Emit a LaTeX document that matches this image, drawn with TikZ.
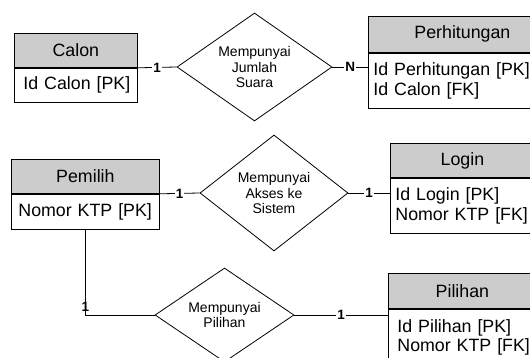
\documentclass[tikz,border=0pt]{standalone}
\usepackage{fontspec}
\setmainfont{Liberation Sans}
\usetikzlibrary{shapes.geometric}
\definecolor{hdrgray}{RGB}{204,204,204}
\newcommand{\attr}[1]{\mbox{#1}}
\tikzset{
  ent/.style={draw=black, line width=0.8pt, rectangle, inner sep=0pt,
    font=\fontsize{17.8}{19.5}\selectfont},
  enthead/.style={ent, fill=hdrgray, anchor=north west},
  entbody/.style={ent, fill=white, anchor=north west, align=left},
  rel/.style={draw=black, line width=0.8pt, diamond, aspect=1.4, inner sep=0pt,
    align=center, font=\fontsize{14}{15.5}\selectfont},
  card/.style={fill=white, inner xsep=1pt, inner ysep=0pt,
    font=\fontsize{13.5}{13.5}\selectfont\bfseries},
  link/.style={draw=black, line width=0.8pt},
}
\begin{document}
\begin{tikzpicture}[x=1pt, y=-1pt]
\path[use as bounding box, clip] (0,0) rectangle (530,358);

% entities: header + attribute body
\node[enthead, minimum width=123, minimum height=34] (calonhead) at (14,33) {Calon};
\node[entbody, minimum width=123, minimum height=34, inner xsep=9pt, text width=105pt]
  (calonbody) at (calonhead.south west) {\attr{Id Calon [PK]}};

\node[enthead, minimum width=188, minimum height=36] (perhhead) at (368,16) {Perhitungan};
\node[entbody, minimum width=188, minimum height=55, inner xsep=5pt, text width=178pt]
  (perhbody) at (perhhead.south west) {\attr{Id Perhitungan [PK]}\\\attr{Id Calon [FK]}};

\node[enthead, minimum width=148, minimum height=34] (pemilihhead) at (11,159) {Pemilih};
\node[entbody, minimum width=148, minimum height=35, inner xsep=7pt, text width=134pt]
  (pemilihbody) at (pemilihhead.south west) {\attr{Nomor KTP [PK]}};

\node[enthead, minimum width=144, minimum height=34] (loginhead) at (390,143) {Login};
\node[entbody, minimum width=144, minimum height=55, inner xsep=5pt, text width=134pt]
  (loginbody) at (loginhead.south west) {\attr{Id Login [PK]}\\\attr{Nomor KTP [FK]}};

\node[enthead, minimum width=148, minimum height=35] (pilihanhead) at (388,273) {Pilihan};
\node[entbody, minimum width=148, minimum height=56, inner xsep=9pt, text width=130pt]
  (pilihanbody) at (pilihanhead.south west) {\attr{Id Pilihan [PK]}\\\attr{Nomor KTP [FK]}};

% relationships
\node[rel, minimum width=155, minimum height=108] (d1) at (254.5,67) {Mempunyai\\Jumlah\\Suara};
\node[rel, minimum width=148, minimum height=116] (d2) at (274,193) {Mempunyai\\Akses ke\\Sistem};
\node[rel, minimum width=139, minimum height=94] (d3) at (224.5,315) {Mempunyai\\Pilihan};

% connectors with cardinalities
\draw[link] (calonhead.south east) -- node[card]{1} (d1.west);
\draw[link] (d1.east) -- node[card]{N} (d1.east -| perhbody.west);
\draw[link] (pemilihhead.south east) -- node[card]{1} (d2.west);
\draw[link] (d2.east) -- node[card]{1} (d2.east -| loginbody.west);
\draw[link] (pemilihbody.south) |- node[card, pos=0.45]{1} (d3.west);
\draw[link] (d3.east) -- node[card]{1} (d3.east -| pilihanbody.west);
\end{tikzpicture}
\end{document}
